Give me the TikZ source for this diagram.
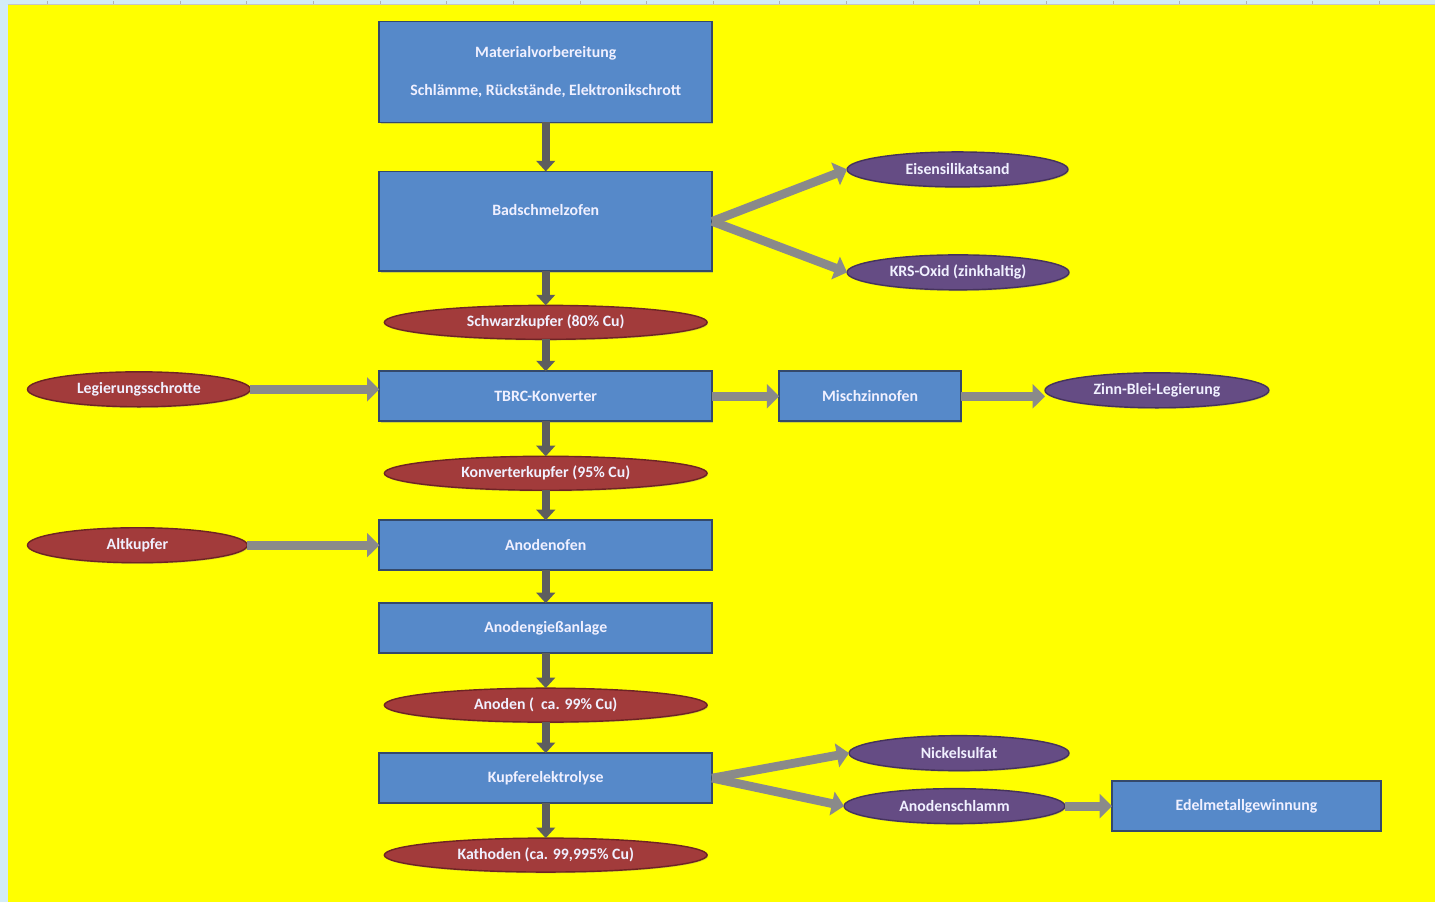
\documentclass[tikz,border=0pt]{standalone}
\usepackage{fontspec}
\setmainfont{Carlito}
\usepackage{tikz}
\usetikzlibrary{positioning,arrows.meta,shapes.geometric,shadows}

\definecolor{sheetframe}{HTML}{D3ECF7}
\definecolor{sheetyellow}{HTML}{FFFF00}
\definecolor{boxblue}{HTML}{5689C9}
\definecolor{boxedge}{HTML}{34496B}
\definecolor{prodred}{HTML}{A23B3B}
\definecolor{prodedge}{HTML}{6E2424}
\definecolor{restpurple}{HTML}{654C84}
\definecolor{restedge}{HTML}{45335C}
\definecolor{downgray}{HTML}{5E5E5E}
\definecolor{sidegray}{HTML}{8A8A8A}

\begin{document}
\begin{tikzpicture}[
        node distance=0.66cm,
        font=\bfseries\fontsize{9}{11}\selectfont,
        proc/.style={draw=boxedge, line width=1pt, fill=boxblue, text=white!94!blue,
                     minimum width=6.66cm, minimum height=1cm, align=center,
                     inner sep=0pt, outer sep=0pt,
                     drop shadow={shadow xshift=0.7pt, shadow yshift=-0.7pt, opacity=0.35}},
        prod/.style={ellipse, draw=prodedge, line width=0.8pt, fill=prodred, text=white!94!blue,
                     minimum width=6.46cm, minimum height=0.68cm, inner sep=0pt, outer sep=0pt,
                     drop shadow={shadow xshift=0.5pt, shadow yshift=-0.7pt, opacity=0.3}},
        rest/.style={prod, draw=restedge, fill=restpurple, minimum width=4.42cm, minimum height=0.7cm},
        down/.style={line width=4.5pt, draw=downgray, -{Triangle[length=6pt,width=10.5pt]}},
        side/.style={line width=5pt, draw=sidegray, -{Triangle[length=7pt,width=13.5pt]}},
    ]
    % sheet background
    \fill[sheetframe] (0,0) rectangle (28.72,-18.04);
    \fill[sheetyellow] (0.16,-0.1) rectangle (28.72,-18.04);
    \draw[gray!45, line width=0.8pt] (0.16,-0.085) -- (28.72,-0.085);
    \foreach \i in {0,...,20}
        \draw[gray!60, line width=0.4pt] (0.94+1.333*\i,-0.02) -- ++(0,-0.06);

    \node[proc, minimum height=2.02cm] at (10.92,-1.44) (mat)
        {Materialvorbereitung\\[11pt]Schlämme, Rückstände, Elektronikschrott};
    \node[proc, minimum height=2cm, below=0.98cm of mat] (bad)
        {\raisebox{0.12cm}[0pt][0pt]{Badschmelzofen}};
    \node[prod, below=0.68cm of bad]        (schwarz) {Schwarzkupfer (80\% Cu)};
    \node[proc, below=0.64cm of schwarz]    (tbrc)    {TBRC-Konverter};
    \node[prod, below=0.7cm of tbrc]        (konv)    {Konverterkupfer (95\% Cu)};
    \node[proc, below=0.6cm of konv]        (anof)    {Anodenofen};
    \node[proc, below=0.66cm of anof]       (giess)   {Anodengießanlage};
    \node[prod, below=0.7cm of giess]       (anoden)  {Anoden (\ \ ca. 99\% Cu)};
    \node[proc, below=0.62cm of anoden]     (elyse)   {Kupferelektrolyse};
    \node[prod, below=0.7cm of elyse]       (kath)    {Kathoden (ca. 99,995\% Cu)};

    \node[rest, right=2.7cm of bad, yshift=1.04cm]  (eisen) {Eisensilikatsand};
    \node[rest, right=2.7cm of bad, yshift=-1.02cm, minimum width=4.44cm] (krs) {KRS-Oxid (zinkhaltig)};
    \node[prod, left=2.58cm of tbrc, yshift=0.14cm, minimum width=4.46cm, minimum height=0.7cm] (leg) {Legierungsschrotte};
    \node[proc, right=1.34cm of tbrc, minimum width=3.64cm] (misch) {Mischzinnofen};
    \node[rest, right=1.68cm of misch, yshift=0.12cm, minimum width=4.48cm] (zinn) {Zinn-Blei-Legierung};
    \node[prod, left=2.64cm of anof, minimum width=4.4cm, minimum height=0.7cm] (alt) {Altkupfer};
    \node[rest, right=2.74cm of elyse, yshift=0.5cm, minimum width=4.4cm] (nickel) {Nickelsulfat};
    \node[rest, right=2.64cm of elyse, yshift=-0.56cm] (schlamm) {Anodenschlamm};
    \node[proc, right=0.94cm of schlamm, minimum width=5.38cm] (edel) {Edelmetallgewinnung};

    \draw[down] (mat) -- (bad);
    \draw[down] (bad) -- (schwarz);
    \draw[down] (schwarz) -- (tbrc);
    \draw[down] (tbrc) -- (konv);
    \draw[down] (konv) -- (anof);
    \draw[down] (anof) -- (giess);
    \draw[down] (giess) -- (anoden);
    \draw[down] (anoden) -- (elyse);
    \draw[down] (elyse) -- (kath);

    \draw[side] (bad.east) -- (eisen.west);
    \draw[side] (bad.east) -- (krs.west);
    \draw[side] (leg) -- (leg -| tbrc.west);
    \draw[side] (tbrc) -- (misch);
    \draw[side] (misch.east) -- (misch.east -| zinn.west);
    \draw[side] (alt) -- (anof);
    \draw[side] (elyse.east) -- (nickel.west);
    \draw[side] (elyse.east) -- (schlamm.west);
    \draw[side] (schlamm) -- (edel);
\end{tikzpicture}
\end{document}
